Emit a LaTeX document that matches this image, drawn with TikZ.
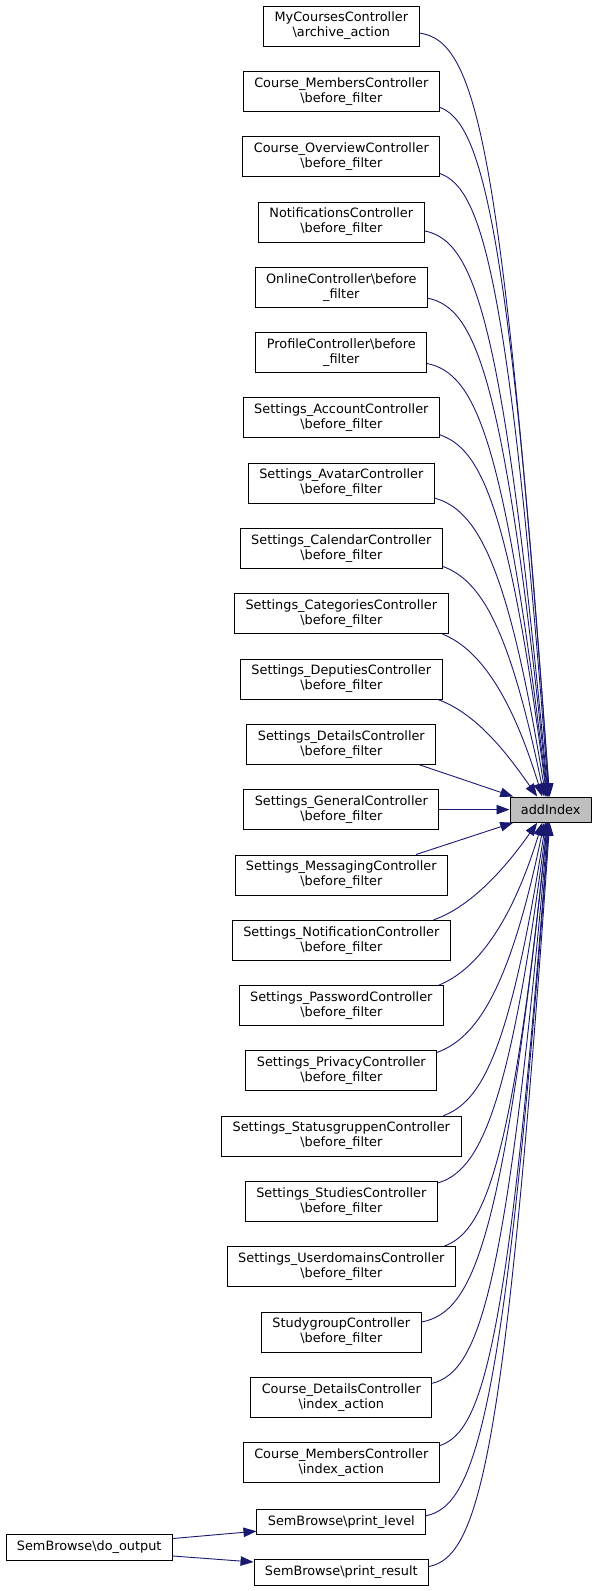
\documentclass[tikz,border=0pt]{standalone}
\usepackage{fontspec}
\setmainfont{DejaVu Sans}
\usetikzlibrary{arrows.meta}
\definecolor{midnight}{HTML}{191970}
\definecolor{hlgray}{HTML}{BFBFBF}
\tikzset{
  fn/.style={draw=black, line width=0.8pt, fill=white, inner xsep=11pt, inner ysep=0pt,
    minimum height=40pt, align=center, font=\fontsize{12.85}{15}\selectfont},
  fn1/.style={fn, minimum height=25.3pt},
  callline/.style={midnight, line width=0.9pt, -{Triangle[length=13pt,width=9.5pt]}},
}
\begin{document}
\begin{tikzpicture}[x=1pt, y=-1pt]
  \useasboundingbox (0,0) rectangle (597,1591);
  % called function
  \node[fn1, fill=hlgray] (addIndex) at (550.7,809.6) {addIndex};
  % callers
  \node[fn] (r0) at (341.3,26) {MyCoursesController\\\textbackslash archive\_action};
  \node[fn] (r1) at (341.3,91.3) {Course\_MembersController\\\textbackslash before\_filter};
  \node[fn] (r2) at (341.3,156.6) {Course\_OverviewController\\\textbackslash before\_filter};
  \node[fn] (r3) at (341.3,221.9) {NotificationsController\\\textbackslash before\_filter};
  \node[fn] (r4) at (341.3,287.2) {OnlineController\textbackslash before\\\_filter};
  \node[fn] (r5) at (341.3,352.5) {ProfileController\textbackslash before\\\_filter};
  \node[fn] (r6) at (341.3,417.8) {Settings\_AccountController\\\textbackslash before\_filter};
  \node[fn] (r7) at (341.3,483.1) {Settings\_AvatarController\\\textbackslash before\_filter};
  \node[fn] (r8) at (341.3,548.4) {Settings\_CalendarController\\\textbackslash before\_filter};
  \node[fn] (r9) at (341.3,613.7) {Settings\_CategoriesController\\\textbackslash before\_filter};
  \node[fn] (r10) at (341.3,679) {Settings\_DeputiesController\\\textbackslash before\_filter};
  \node[fn] (r11) at (341.3,744.3) {Settings\_DetailsController\\\textbackslash before\_filter};
  \node[fn] (r12) at (341.3,809.6) {Settings\_GeneralController\\\textbackslash before\_filter};
  \node[fn] (r13) at (341.3,874.9) {Settings\_MessagingController\\\textbackslash before\_filter};
  \node[fn] (r14) at (341.3,940.2) {Settings\_NotificationController\\\textbackslash before\_filter};
  \node[fn] (r15) at (341.3,1005.5) {Settings\_PasswordController\\\textbackslash before\_filter};
  \node[fn] (r16) at (341.3,1070.8) {Settings\_PrivacyController\\\textbackslash before\_filter};
  \node[fn] (r17) at (341.3,1136.1) {Settings\_StatusgruppenController\\\textbackslash before\_filter};
  \node[fn] (r18) at (341.3,1201.4) {Settings\_StudiesController\\\textbackslash before\_filter};
  \node[fn] (r19) at (341.3,1266.7) {Settings\_UserdomainsController\\\textbackslash before\_filter};
  \node[fn] (r20) at (341.3,1332) {StudygroupController\\\textbackslash before\_filter};
  \node[fn] (r21) at (341.3,1397.3) {Course\_DetailsController\\\textbackslash index\_action};
  \node[fn] (r22) at (341.3,1462.6) {Course\_MembersController\\\textbackslash index\_action};
  \node[fn1] (r23) at (341.3,1521.7) {SemBrowse\textbackslash print\_level};
  \node[fn1] (r24) at (341.3,1572.5) {SemBrowse\textbackslash print\_result};
  \node[fn1] (doout) at (89.2,1547.5) {SemBrowse\textbackslash do\_output};
  % calls from above
  \draw[callline] ([yshift=-7pt]r0.east) .. controls +(58,8) and +(-48,-650) .. ([xshift=-1pt]addIndex.north);
  \draw[callline] ([yshift=-16pt]r1.east) .. controls +(40,15) and +(-40,-585) .. ([xshift=-1.5pt]addIndex.north);
  \draw[callline] ([yshift=-17pt]r2.east) .. controls +(40,15) and +(-40,-530) .. ([xshift=-2pt]addIndex.north);
  \draw[callline] ([yshift=-9pt]r3.east) .. controls +(50,10) and +(-45,-480) .. ([xshift=-2.5pt]addIndex.north);
  \draw[callline] ([yshift=-11pt]r4.east) .. controls +(48,10) and +(-43,-420) .. ([xshift=-3pt]addIndex.north);
  \draw[callline] ([yshift=-11pt]r5.east) .. controls +(48,10) and +(-43,-360) .. ([xshift=-3.5pt]addIndex.north);
  \draw[callline] ([yshift=-17pt]r6.east) .. controls +(40,14) and +(-38,-295) .. ([xshift=-4pt]addIndex.north);
  \draw[callline] ([yshift=-15pt]r7.east) .. controls +(42,12) and +(-38,-235) .. ([xshift=-5pt]addIndex.north);
  \draw[callline] ([yshift=-18pt]r8.east) .. controls +(38,14) and +(-35,-170) .. ([xshift=-6.5pt]addIndex.north);
  \draw[callline] ([xshift=-6pt]r9.south east) .. controls +(35,14) and +(-32,-105) .. ([xshift=-8.5pt]addIndex.north);
  \draw[callline] ([xshift=-5pt]r10.south east) .. controls +(40,14) and +(-28,-40) .. ([xshift=-13.5pt]addIndex.north);
  \draw[callline] ([xshift=-17pt]r11.south east) -- ([xshift=-37.5pt]addIndex.north);
  \draw[callline] (r12) -- (addIndex);
  % calls from below
  \draw[callline] ([xshift=-32pt]r13.north east) -- ([xshift=-37.5pt]addIndex.south);
  \draw[callline] ([xshift=-17pt]r14.north east) .. controls +(40,-14) and +(-28,40) .. ([xshift=-13.5pt]addIndex.south);
  \draw[callline] ([xshift=-5pt]r15.north east) .. controls +(35,-14) and +(-32,105) .. ([xshift=-8.5pt]addIndex.south);
  \draw[callline] ([yshift=-2pt]r16.north east) .. controls +(38,-14) and +(-35,170) .. ([xshift=-6.5pt]addIndex.south);
  \draw[callline] ([xshift=-18pt]r17.north east) .. controls +(38,-14) and +(-36,230) .. ([xshift=-5pt]addIndex.south);
  \draw[callline] ([yshift=-2pt]r18.north east) .. controls +(40,-12) and +(-38,295) .. ([xshift=-4pt]addIndex.south);
  \draw[callline] ([xshift=-12pt]r19.north east) .. controls +(38,-14) and +(-36,355) .. ([xshift=-3.5pt]addIndex.south);
  \draw[callline] ([yshift=10pt]r20.east) .. controls +(52,-10) and +(-45,420) .. ([xshift=-3pt]addIndex.south);
  \draw[callline] ([yshift=14pt]r21.east) .. controls +(46,-12) and +(-42,475) .. ([xshift=-2.5pt]addIndex.south);
  \draw[callline] ([yshift=17pt]r22.east) .. controls +(42,-14) and +(-40,530) .. ([xshift=-2pt]addIndex.south);
  \draw[callline] ([yshift=6pt]r23.east) .. controls +(50,-10) and +(-44,590) .. ([xshift=-1.5pt]addIndex.south);
  \draw[callline] ([yshift=6pt]r24.east) .. controls +(50,-10) and +(-44,635) .. ([xshift=-1pt]addIndex.south);
  % do_output
  \draw[callline] ([yshift=9pt]doout.east) -- ([yshift=-9.5pt]r23.west);
  \draw[callline] ([yshift=-8.5pt]doout.east) -- ([yshift=10.5pt]r24.west);
\end{tikzpicture}
\end{document}
